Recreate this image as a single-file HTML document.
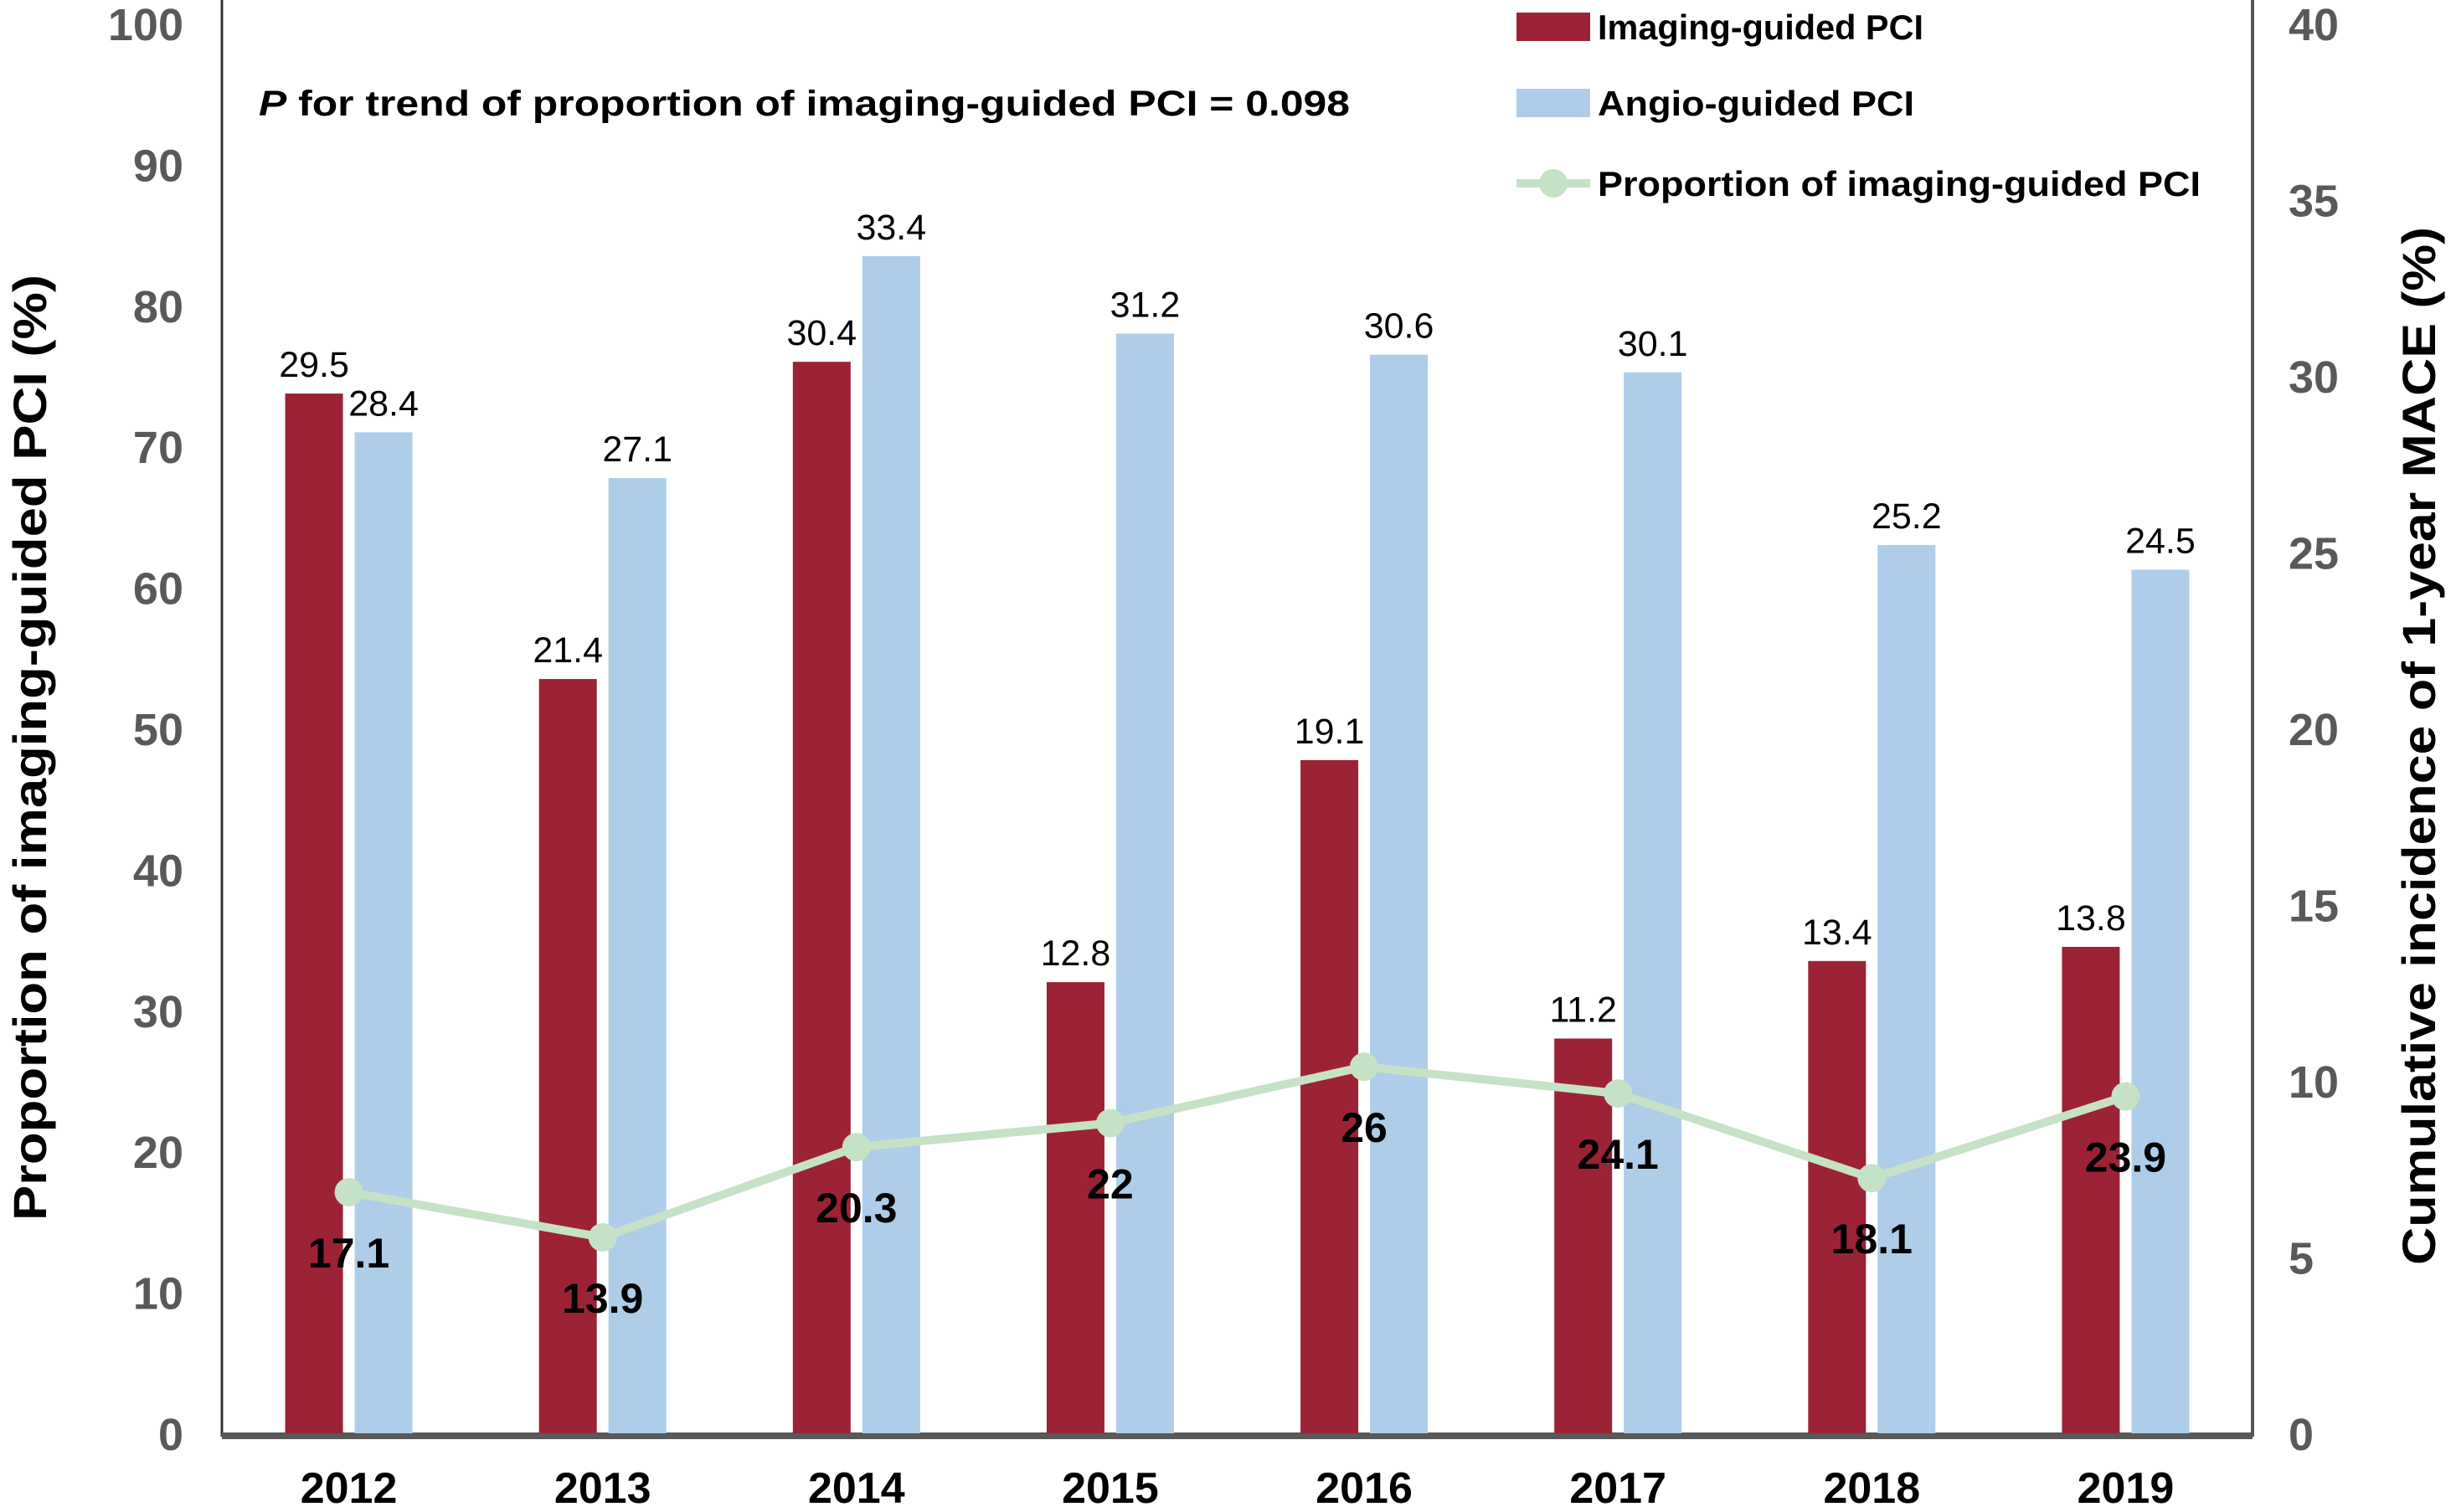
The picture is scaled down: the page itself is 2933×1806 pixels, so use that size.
<!DOCTYPE html>
<html><head><meta charset="utf-8"><style>
html,body{margin:0;padding:0;background:#fff}
svg{display:block;font-family:"Liberation Sans",Arial,sans-serif}
</style></head><body>
<svg id="chart" width="2933" height="1806" viewBox="0 0 2933 1806" xmlns="http://www.w3.org/2000/svg">
<g id="axes"></g><g id="bars"></g><g id="line"></g><g id="labels"></g>
<text transform="translate(55,893) rotate(-90)" text-anchor="middle" font-size="56" font-weight="bold" fill="#000" textLength="1130" lengthAdjust="spacingAndGlyphs">Proportion of imaging-guided PCI (%)</text>
<text transform="translate(2908,891) rotate(-90)" text-anchor="middle" font-size="56" font-weight="bold" fill="#000" textLength="1240" lengthAdjust="spacingAndGlyphs">Cumulative incidence of 1-year MACE (%)</text>
<text x="309" y="138" font-size="43" font-weight="bold" fill="#000" textLength="1303" lengthAdjust="spacingAndGlyphs"><tspan font-style="italic">P</tspan> for trend of proportion of imaging-guided PCI  = 0.098</text>
<g>
<rect x="1811" y="15" width="88" height="34" fill="#9b2335"/>
<text x="1908" y="47" font-size="42" font-weight="bold" fill="#000" textLength="389" lengthAdjust="spacingAndGlyphs">Imaging-guided PCI</text>
<rect x="1811" y="106" width="88" height="34" fill="#aecde9"/>
<text x="1908" y="138" font-size="42" font-weight="bold" fill="#000" textLength="378" lengthAdjust="spacingAndGlyphs">Angio-guided PCI</text>
<line x1="1811" y1="219" x2="1899" y2="219" stroke="#c6e2c6" stroke-width="10"/>
<circle cx="1855" cy="219" r="17" fill="#c6e2c6"/>
<text x="1908" y="234" font-size="42" font-weight="bold" fill="#000" textLength="720" lengthAdjust="spacingAndGlyphs">Proportion of imaging-guided PCI</text>
</g>
</svg>
<script>
const years = ["2012","2013","2014","2015","2016","2017","2018","2019"];
const imagingMace = [29.5,21.4,30.4,12.8,19.1,11.2,13.4,13.8];
const angioMace = [28.4,27.1,33.4,31.2,30.6,30.1,25.2,24.5];
const proportion = [17.1,13.9,20.3,22,26,24.1,18.1,23.9];
const leftTicks = [0,10,20,30,40,50,60,70,80,90,100];
const rightTicks = [0,5,10,15,20,25,30,35,40];

const NS="http://www.w3.org/2000/svg";
const X0=265,X1=2690,Y0=1712,Y1=28;
const band=(X1-X0)/years.length;
const xc=i=>X0+band*(i+0.5);
const yL=v=>Y0-(v/100)*(Y0-Y1);
const yR=v=>Y0-(v/40)*(Y0-Y1);
function mk(tag,attrs,parent,text){const e=document.createElementNS(NS,tag);for(const k in attrs)e.setAttribute(k,attrs[k]);if(text!==undefined)e.textContent=text;document.getElementById(parent).appendChild(e);return e;}

let e;
e=mk('line',{x1:X0,y1:Y1-28,x2:X0,y2:Y0+4,stroke:'#333',"stroke-width":3},'axes');


e=mk('line',{x1:X1,y1:Y1-28,x2:X1,y2:Y0+4,stroke:'#555',"stroke-width":4},'axes');


e=mk('line',{x1:X0,y1:Y0+3,x2:X1,y2:Y0+3,stroke:'#595959',"stroke-width":8},'axes');


leftTicks.forEach(t=>{
  e=mk('text',{x:219,y:yL(t)+20,"text-anchor":"end","font-size":54,"font-weight":"bold",fill:'#595959'},'axes',String(t));
  
  
});
rightTicks.forEach(t=>{
  e=mk('text',{x:2733,y:yR(t)+20,"font-size":54,"font-weight":"bold",fill:'#595959'},'axes',String(t));
  
  
});
years.forEach((y,i)=>{
  e=mk('text',{x:xc(i),y:1795,"text-anchor":"middle","font-size":52,"font-weight":"bold",fill:'#000'},'axes',y);
  
  
});
const BW=69,off=14;
years.forEach((y,i)=>{
  const rx=xc(i)-off/2-BW, bx=xc(i)+off/2;
  e=mk('rect',{x:rx,y:yR(imagingMace[i]),width:BW,height:Y0-yR(imagingMace[i]),fill:'#9b2335'},'bars');
  
  
  e=mk('rect',{x:bx,y:yR(angioMace[i]),width:BW,height:Y0-yR(angioMace[i]),fill:'#aecde9'},'bars');
  
  
  e=mk('text',{x:rx+BW/2,y:yR(imagingMace[i])-20,"text-anchor":"middle","font-size":43,fill:'#000'},'labels',String(imagingMace[i]));
  
  
  e=mk('text',{x:bx+BW/2,y:yR(angioMace[i])-20,"text-anchor":"middle","font-size":43,fill:'#000'},'labels',String(angioMace[i]));
  
  
});
const pts=proportion.map((v,i)=>xc(i)+','+yL(v)).join(' ');
e=mk('polyline',{points:pts,fill:'none',stroke:'#c6e2c6',"stroke-width":10},'line');


proportion.forEach((v,i)=>{
  e=mk('circle',{cx:xc(i),cy:yL(v),r:17,fill:'#c6e2c6'},'line');
  
  
  e=mk('text',{x:xc(i),y:yL(v)+90,"text-anchor":"middle","font-size":50,"font-weight":"bold",fill:'#000'},'labels',String(v));
  
  
});
</script>
</body></html>
